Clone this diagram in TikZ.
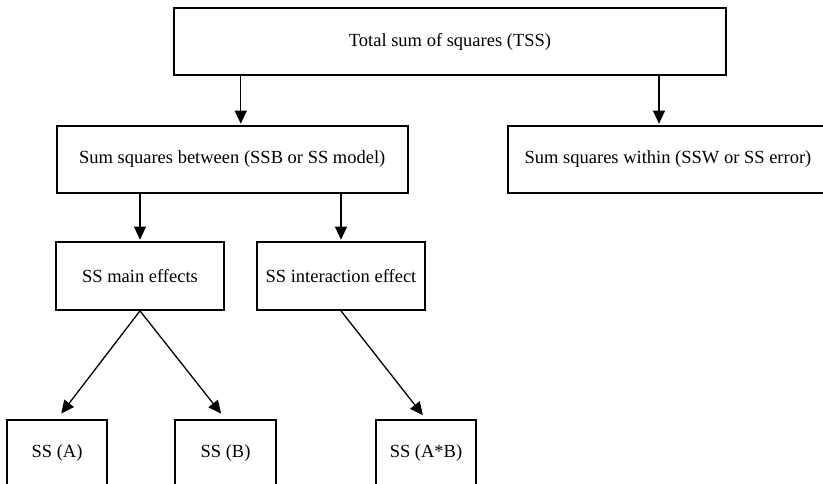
\documentclass[tikz,border=0pt]{standalone}
\usepackage{fontspec}
\setmainfont{Liberation Serif}
\usepackage{tikz}
\usetikzlibrary{arrows.meta, positioning, calc}

\begin{document}
\begin{tikzpicture}[x=1pt, y=-1pt, >={Triangle[length=13pt, width=12pt]}]
    %\draw[step=50, gray, very thin] (0, 0) grid (823, 484);
    \useasboundingbox (0, 0) rectangle (823, 484);
    \tikzset{ssbox/.style={draw, line width=1.7pt, inner sep=0pt, font=\fontsize{18.5}{22}\selectfont}}
    \tikzset{ssarrow/.style={->, line width=1.3pt}}

    \node[ssbox, minimum width=552pt, minimum height=67pt] (tss) at (450, 41.5) {Total sum of squares (TSS)};

    \node[ssbox, minimum width=351pt, minimum height=67pt] (ssb) at (232.25, 159.5) {Sum squares between (SSB or SS model)};
    \node[ssbox, minimum width=320pt, minimum height=67pt] (ssw) at (668, 159.5) {Sum squares within (SSW or SS error)};

    \node[ssbox, minimum width=168pt, minimum height=68pt] (main) at (140, 276) {SS main effects};
    \node[ssbox, minimum width=168pt, minimum height=68pt] (inter) at (341, 276) {SS interaction effect};

    \node[ssbox, minimum width=100pt, minimum height=66pt] (ssa) at (57, 453) {SS (A)};
    \node[ssbox, minimum width=101pt, minimum height=66pt] (sss) at (225.5, 453) {SS (B)};
    \node[ssbox, minimum width=100pt, minimum height=66pt] (ssab) at (426, 453) {SS (A*B)};

    \draw[ssarrow, shorten >=1.5pt] ([xshift=8.5pt]ssb.north |- tss.south) -- ([xshift=8.5pt]ssb.north);
    \draw[ssarrow, shorten >=1.5pt] ([xshift=-9pt]ssw.north |- tss.south) -- ([xshift=-9pt]ssw.north);

    \draw[ssarrow, shorten >=1.5pt] (ssb.south -| main.north) -- (main.north);
    \draw[ssarrow, shorten >=1.5pt] (ssb.south -| inter.north) -- (inter.north);

    \draw[ssarrow, shorten >=7pt] (main.south) -- (ssa.north);
    \draw[ssarrow, shorten >=7pt] (main.south) -- (sss.north);
    \draw[ssarrow, shorten >=5pt] (inter.south) -- (ssab.north);

\end{tikzpicture}
\end{document}
